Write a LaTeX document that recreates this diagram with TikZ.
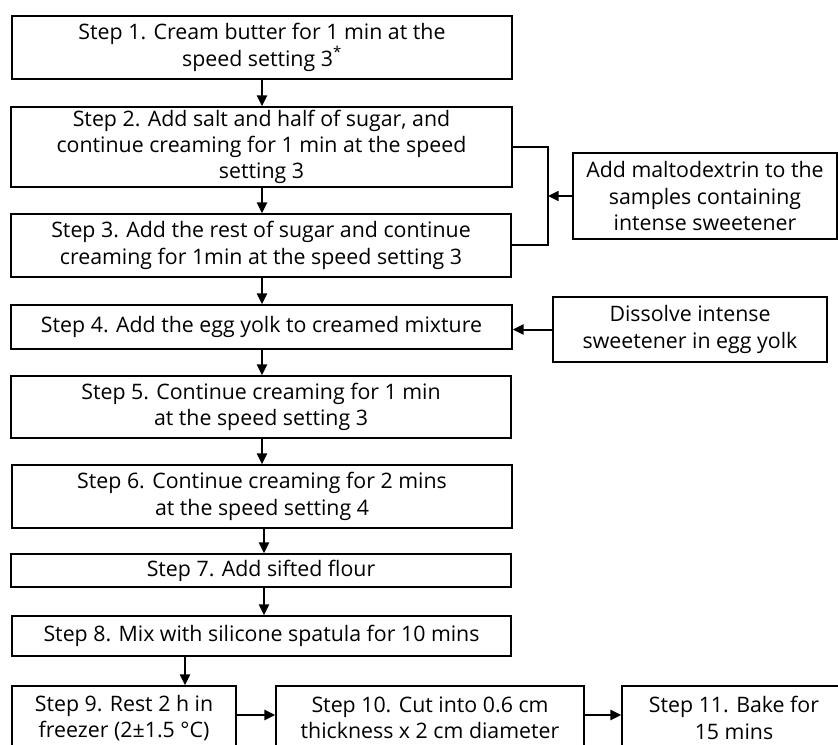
\documentclass[tikz,border=0pt]{standalone}
\usepackage{fontspec}
\setmainfont{Open Sans}
\usetikzlibrary{arrows.meta}
\begin{document}
\begin{tikzpicture}[x=0.75pt,y=-0.75pt,
  box/.style={draw, line width=1.3pt, align=center, inner sep=0pt,
    font=\fontsize{16}{19.8}\selectfont},
  arr/.style={line width=1.5pt, -{Triangle[length=8pt,width=7.5pt]}},
  conn/.style={line width=1.5pt}]
\useasboundingbox (0,0) rectangle (838,745);
\clip (0,0) rectangle (838,745);
\node[box, minimum width=375pt, minimum height=47.25pt] (b1) at (262,47.5)
  {Step 1. Cream butter for 1 min at the\\speed setting 3\textsuperscript{*}};
\node[box, minimum width=375.75pt, minimum height=60pt] (b2) at (261.5,147)
  {Step 2. Add salt and half of sugar, and\\continue creaming for 1 min at the speed\\setting 3};
\node[box, minimum width=375pt, minimum height=47.25pt] (b3) at (261,245.5)
  {Step 3. Add the rest of sugar and continue\\creaming for 1min at the speed setting 3};
\node[box, minimum width=375.75pt, minimum height=33pt] (b4) at (261.5,327)
  {Step 4. Add the egg yolk to creamed mixture};
\node[box, minimum width=375pt, minimum height=46.5pt] (b5) at (261,407)
  {Step 5. Continue creaming for 1 min\\at the speed setting 3};
\node[box, minimum width=375pt, minimum height=47.25pt] (b6) at (262,496.5)
  {Step 6. Continue creaming for 2 mins\\at the speed setting 4};
\node[box, minimum width=375pt, minimum height=24.75pt] (b7) at (261,570.5)
  {Step 7. Add sifted flour};
\node[box, minimum width=374.25pt, minimum height=30pt] (b8) at (261.5,636)
  {Step 8. Mix with silicone spatula for 10 mins};
\node[box, minimum width=198pt, minimum height=64.5pt] (malt) at (705,196)
  {Add maltodextrin to the\\samples containing\\intense sweetener};
\node[box, minimum width=205.5pt, minimum height=48.75pt] (diss) at (690,329.5)
  {Dissolve intense\\sweetener in egg yolk};
\node[box, minimum width=168pt, minimum height=48pt] (b9) at (124,718)
  {Step 9. Rest 2 h in\\freezer (2±1.5 °C)};
\node[box, minimum width=231pt, minimum height=48pt] (b10) at (430,718)
  {Step 10. Cut into 0.6 cm\\thickness x 2 cm diameter};
\node[box, minimum width=168pt, minimum height=48pt] (b11) at (734,718)
  {Step 11. Bake for\\15 mins};
% vertical arrows
\coordinate (cx) at (262,0);
\coordinate (cx2) at (264,0);
\coordinate (cx3) at (185,0);
\draw[arr] (b1.south -| cx) -- (b2.north -| cx);
\draw[arr] (b2.south -| cx) -- (b3.north -| cx);
\draw[arr] (b3.south -| cx) -- (b4.north -| cx);
\draw[arr] (b4.south -| cx) -- (b5.north -| cx);
\draw[arr] (b5.south -| cx) -- (b6.north -| cx);
\draw[arr] (b6.south -| cx2) -- (b7.north -| cx2);
\draw[arr] (b7.south -| cx2) -- (b8.north -| cx2);
\draw[arr] (b8.south -| cx3) -- (b9.north -| cx3);
% bracket
\coordinate (brx) at (548,0);
\draw[conn] (b2.east) -- (b2.east -| brx) -- (b3.east -| brx) -- (b3.east);
\draw[arr] (malt.west) -- (malt.west -| brx);
\draw[arr] (diss.west) -- (diss.west -| b4.east);
% bottom row
\coordinate (ry) at (0,715);
\draw[arr] (b9.east |- ry) -- (b10.west |- ry);
\draw[arr] (b10.east |- ry) -- (b11.west |- ry);
\end{tikzpicture}
\end{document}
